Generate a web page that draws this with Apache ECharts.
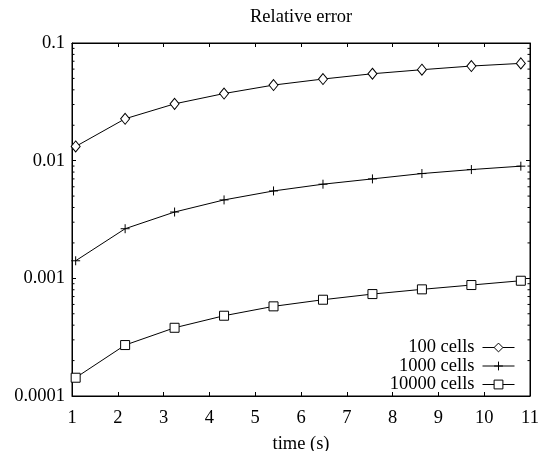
<!DOCTYPE html>
<html>
<head>
<meta charset="utf-8">
<script src="https://cdn.jsdelivr.net/npm/echarts@6/dist/echarts.min.js"></script>
<style>
  html, body { margin: 0; padding: 0; background: #fff; }
  #chart { width: 540px; height: 451px; }
</style>
</head>
<body>
<div id="chart"></div>
<script>
var times = [1.08, 2.16, 3.24, 4.32, 5.40, 6.48, 7.56, 8.64, 9.72, 10.80];
var cells100 = [0.0132, 0.0227, 0.0304, 0.0372, 0.0439, 0.0494, 0.0548, 0.0593, 0.0637, 0.0671];
var cells1000 = [0.00141, 0.00264, 0.00366, 0.00464, 0.00553, 0.00631, 0.00700, 0.00777, 0.00840, 0.00898];
var cells10000 = [0.000143, 0.000271, 0.000380, 0.000481, 0.000578, 0.000658, 0.000735, 0.000806, 0.000877, 0.000954];
var seriesNames = ['100 cells', '1000 cells', '10000 cells'];
var yTickLabels = ['0.0001', '0.001', '0.01', '0.1'];

var font = 'Liberation Serif';
var fs = 18.5;

// minor log ticks 2..9 in every decade
var minorTicks = [];
[0.0001, 0.001, 0.01].forEach(function(d) {
  for (var k = 2; k <= 9; k++) minorTicks.push(d * k);
});

function pairs(vals) {
  return vals.map(function(v, i) { return [times[i], v]; });
}

var chart = echarts.init(document.getElementById('chart'));

var lineSeries = function(name, vals, symbol, size) {
  return {
    name: name,
    type: 'line',
    data: pairs(vals),
    symbol: symbol,
    symbolSize: size,
    showAllSymbol: true,
    lineStyle: { color: '#000', width: 1 },
    itemStyle: { color: '#fff', borderColor: '#000', borderWidth: 1 },
    emphasis: { disabled: true },
    animation: false
  };
};

var legendAt = function(name, top) {
  return {
    data: [name],
    right: 25,
    top: top,
    padding: 0,
    itemWidth: 32,
    itemHeight: 11,
    align: 'right',
    selectedMode: false,
    itemStyle: { color: '#fff', borderColor: '#000', borderWidth: 1 },
    lineStyle: { color: '#000', width: 1 },
    textStyle: { fontFamily: font, fontSize: fs, color: '#000', padding: [0, 3, 0, 0] }
  };
};

var option = {
  backgroundColor: '#fff',
  animation: false,
  title: {
    text: 'Relative error',
    left: 250,
    top: 8,
    padding: 0,
    textStyle: { fontFamily: font, fontSize: fs, fontWeight: 'normal', color: '#000' }
  },
  legend: [
    legendAt(seriesNames[0], 338),
    legendAt(seriesNames[1], 356.5),
    legendAt(seriesNames[2], 375)
  ],
  grid: {
    left: 72, right: 10, top: 43, bottom: 55,
    outerBoundsMode: 'none',
    containLabel: false,
    show: true, borderColor: '#000', borderWidth: 1
  },
  xAxis: [{
    type: 'value',
    min: 1, max: 11, interval: 1,
    name: 'time (s)',
    nameLocation: 'middle',
    nameGap: 39,
    nameTextStyle: { fontFamily: font, fontSize: fs, color: '#000' },
    axisLine: { show: true, lineStyle: { color: '#000' } },
    axisTick: { inside: true, length: 4, lineStyle: { color: '#000' } },
    axisLabel: { fontFamily: font, fontSize: fs, color: '#000', margin: 13 },
    splitLine: { show: false }
  }, {
    type: 'value',
    position: 'top',
    min: 1, max: 11, interval: 1,
    axisLine: { show: true, lineStyle: { color: '#000' } },
    axisTick: { inside: true, length: 4, lineStyle: { color: '#000' } },
    axisLabel: { show: false },
    splitLine: { show: false }
  }],
  yAxis: [{
    type: 'log',
    logBase: 10,
    min: 0.0001, max: 0.1,
    axisLine: { show: true, lineStyle: { color: '#000' } },
    axisTick: { inside: true, length: 4, lineStyle: { color: '#000' } },
    axisLabel: {
      fontFamily: font, fontSize: fs, color: '#000', margin: 7,
      formatter: function(v) { return yTickLabels[Math.round(Math.log10(v)) + 4]; }
    },
    splitLine: { show: false }
  }, {
    type: 'log',
    logBase: 10,
    position: 'right',
    min: 0.0001, max: 0.1,
    axisLine: { show: true, lineStyle: { color: '#000' } },
    axisTick: { inside: true, length: 4, lineStyle: { color: '#000' } },
    axisLabel: { show: false },
    splitLine: { show: false }
  }],
  series: [
    lineSeries(seriesNames[0], cells100, 'diamond', [9, 11]),
    lineSeries(seriesNames[1], cells1000, 'path://M0,5L10,5M5,0L5,10', 9),
    lineSeries(seriesNames[2], cells10000, 'rect', 9),
    {
      type: 'custom',
      silent: true,
      data: minorTicks.map(function(v) { return [1, v]; }),
      encode: { x: 0, y: 1 },
      renderItem: function(params, api) {
        var y = api.coord([1, api.value(1)])[1];
        var cs = params.coordSys;
        var st = { stroke: '#000', lineWidth: 1 };
        return {
          type: 'group',
          children: [
            { type: 'line', shape: { x1: cs.x, y1: y, x2: cs.x + 2.5, y2: y }, style: st },
            { type: 'line', shape: { x1: cs.x + cs.width, y1: y, x2: cs.x + cs.width - 2.5, y2: y }, style: st }
          ]
        };
      }
    }
  ]
};

chart.setOption(option);
</script>
</body>
</html>
